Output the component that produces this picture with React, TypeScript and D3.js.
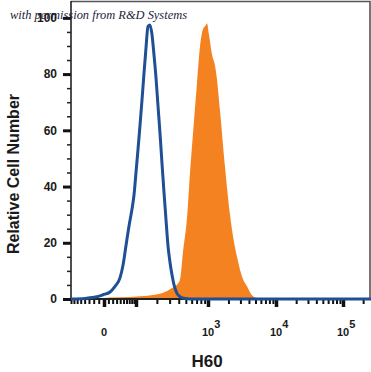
import React, { useEffect, useRef } from 'react'
import * as d3 from 'd3'

// isotype control histogram (blue outline)
const controlX = [-80, -39, -23.5, -13.4, -1.9, 13.7, 25.9, 39.3, 48.3, 58.2, 69.2, 81.4, 90.3, 100, 107, 115, 123, 131, 140, 150, 160, 171, 182, 194, 207, 221, 236, 251, 268, 285, 304, 324, 345, 379, 417, 487, 666, 262144]
const controlY = [0, 0.2, 0.5, 0.8, 1.5, 2.5, 4.5, 7.5, 12, 19, 26, 32, 37, 45, 53, 62, 71, 80, 89, 97, 97.5, 94, 87, 79, 69, 59, 48, 38, 28, 19, 13, 8.5, 5, 2, 0.8, 0.2, 0, 0]

// H60 stained histogram (orange fill)
const stainX = [-28, -7.6, 39.3, 115, 188, 259, 304, 356, 391, 417, 458, 519, 570, 626, 710, 780, 856, 912, 970, 1035, 1145, 1268, 1357, 1502, 1779, 2107, 2670, 3272, 3747, 4290, 5257, 6890, 262144]
const stainY = [0, 0.3, 0.6, 1.0, 1.5, 2.5, 3.5, 4.5, 5.5, 7, 17, 29, 45, 59, 77, 90, 96, 97, 98, 94, 87, 83, 78, 67, 47, 30, 15, 7, 4.5, 1.8, 0.3, 0, 0]

// biexponential axis: decade anchors
const xAnchors = [-80, 0, 100, 1000, 10000, 100000, 262144]
const xMajorTicks = [0, 100, 1000, 10000, 100000]
const xTickLabels = [
  { v: 0, base: '0', exp: '' },
  { v: 1000, base: '10', exp: '3' },
  { v: 10000, base: '10', exp: '4' },
  { v: 100000, base: '10', exp: '5' }
]
const yMajorTicks = [0, 20, 40, 60, 80, 100]

const W = 371
const H = 372

function App () {
  const ref = useRef<SVGSVGElement>(null)

  useEffect(() => {
    const svg = d3.select(ref.current)
    svg.selectAll('*').remove()

    const left = 71
    const right = 370
    const top = 1
    const bottom = 299
    const font = "'Liberation Sans', Arial, sans-serif"

    const tf = (v: number) => Math.asinh(v / 50)
    // piecewise so the decades sit where the cytometer software put them
    const xs = d3.scaleLinear()
      .domain(xAnchors.map(tf))
      .range([left, 104, 136, 208, 276, 343, right + 1])
    const x = (v: number) => xs(tf(v))

    const y = d3.scaleLinear().domain([0, 106]).range([bottom, top])

    svg.append('rect').attr('width', W).attr('height', H).attr('fill', '#fff')

    // frame
    svg.append('path')
      .attr('d', `M${left},${top + 0.5}H${right}V${bottom}`)
      .attr('fill', 'none')
      .attr('stroke', '#555')
      .attr('stroke-width', 1.6)

    // stained histogram
    const stain = stainX.map((v, i) => [v, stainY[i]])
    svg.append('path')
      .datum(stain)
      .attr('fill', '#f58220')
      .attr('d', d3.area<number[]>()
        .x(d => x(d[0]))
        .y0(y(0))
        .y1(d => y(d[1]))
        .curve(d3.curveMonotoneX))

    // x axis ticks
    const minor: number[] = []
    for (let k = 1; k <= 8; k++) minor.push(-10 * k)
    for (let d = 1; d <= 4; d++) {
      for (let k = 2; k <= 9; k++) minor.push(k * Math.pow(10, d))
    }
    minor.push(10, 200000)

    const gx = svg.append('g').attr('transform', `translate(0,${bottom})`)
    gx.call(d3.axisBottom(xs).tickValues(minor.map(tf)).tickSize(5).tickFormat(() => ''))
    gx.selectAll('line').attr('stroke', '#111').attr('stroke-width', 2)
    gx.selectAll('.domain').remove()
    const gx2 = svg.append('g').attr('transform', `translate(0,${bottom})`)
    gx2.call(d3.axisBottom(xs).tickValues(xMajorTicks.map(tf)).tickSize(8).tickFormat(() => ''))
    gx2.selectAll('line').attr('stroke', '#111').attr('stroke-width', 3.5)
    gx2.selectAll('.domain').remove()

    // y axis ticks
    const yMinor = d3.range(0, 101, 5)
    const gy = svg.append('g').attr('transform', `translate(${left},0)`)
    gy.call(d3.axisLeft(y).tickValues(yMinor).tickSize(4).tickFormat(() => ''))
    gy.selectAll('line').attr('stroke', '#222').attr('stroke-width', 1.5)
    const gy2 = svg.append('g').attr('transform', `translate(${left},0)`)
    gy2.call(d3.axisLeft(y).tickValues(yMajorTicks).tickSize(8).tickFormat(() => ''))
    gy2.selectAll('line').attr('stroke', '#111').attr('stroke-width', 3)
    gy.selectAll('.domain').remove()
    gy2.selectAll('.domain').remove()

    svg.append('line')
      .attr('x1', left).attr('x2', left)
      .attr('y1', top).attr('y2', bottom + 1)
      .attr('stroke', '#222').attr('stroke-width', 1.6)
    svg.append('line')
      .attr('x1', left).attr('x2', right)
      .attr('y1', bottom).attr('y2', bottom)
      .attr('stroke', '#222').attr('stroke-width', 2)

    // control histogram
    const control = controlX.map((v, i) => [v, controlY[i]])
    svg.append('path')
      .datum(control)
      .attr('fill', 'none')
      .attr('stroke', '#1f4f94')
      .attr('stroke-width', 3)
      .attr('stroke-linejoin', 'round')
      .attr('d', d3.line<number[]>()
        .x(d => x(d[0]))
        .y(d => y(d[1]))
        .curve(d3.curveMonotoneX))

    // y tick labels
    svg.append('g')
      .selectAll('text')
      .data(yMajorTicks)
      .enter()
      .append('text')
      .attr('x', 57)
      .attr('y', d => y(d))
      .attr('dy', '0.36em')
      .attr('text-anchor', 'end')
      .attr('font-family', font)
      .attr('font-weight', 'bold')
      .attr('font-size', 12)
      .attr('fill', '#1a1a1a')
      .text(d => d)

    // x tick labels
    const lab = svg.append('g')
      .selectAll('text')
      .data(xTickLabels)
      .enter()
      .append('text')
      .attr('x', d => d.exp ? x(d.v) - 6 : x(d.v))
      .attr('y', 336)
      .attr('text-anchor', d => d.exp ? 'start' : 'middle')
      .attr('font-family', font)
      .attr('font-weight', 'bold')
      .attr('font-size', 11)
      .attr('fill', '#1a1a1a')
    lab.append('tspan').text(d => d.base)
    lab.append('tspan')
      .attr('dy', -8)
      .attr('font-size', 11)
      .text(d => d.exp)

    // axis titles
    svg.append('text')
      .attr('transform', 'translate(19,174) rotate(-90)')
      .attr('text-anchor', 'middle')
      .attr('font-family', font)
      .attr('font-weight', 'bold')
      .attr('font-size', 16)
      .attr('fill', '#1a1a1a')
      .text('Relative Cell Number')

    svg.append('text')
      .attr('x', 207)
      .attr('y', 367)
      .attr('text-anchor', 'middle')
      .attr('font-family', font)
      .attr('font-weight', 'bold')
      .attr('font-size', 17)
      .attr('fill', '#1a1a1a')
      .text('H60')

    // watermark, laid over the 100 label as in the original
    svg.append('text')
      .attr('x', 10)
      .attr('y', 19)
      .attr('textLength', 177)
      .attr('lengthAdjust', 'spacingAndGlyphs')
      .attr('font-family', "'Liberation Serif', 'DejaVu Serif', serif")
      .attr('font-style', 'italic')
      .attr('font-size', 12.5)
      .attr('fill', '#1c1c3a')
      .text('with permission from R&D Systems')
  }, [])

  return (
    <svg
      ref={ref}
      width={W}
      height={H}
      style={{ position: 'absolute', left: 0, top: 0, display: 'block' }}
    />
  )
}

export default App
